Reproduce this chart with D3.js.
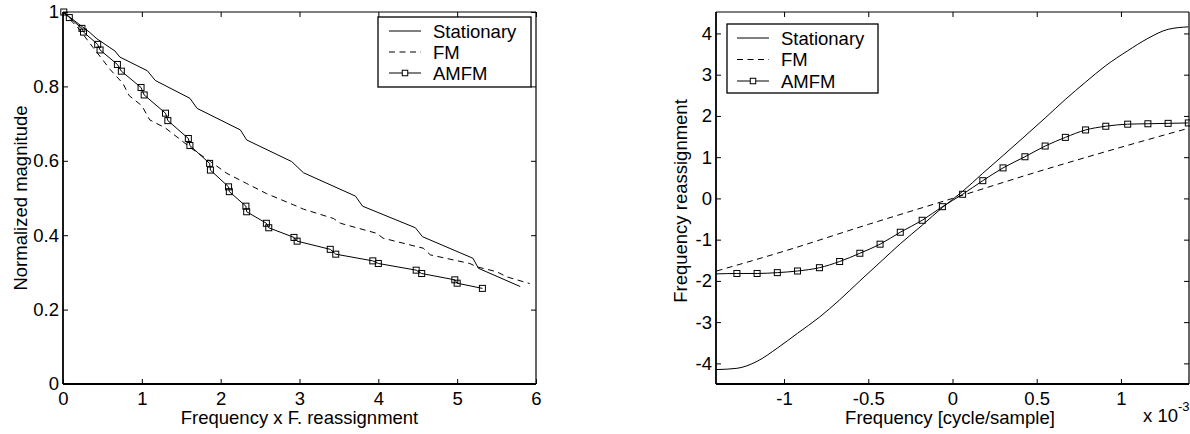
<!DOCTYPE html>
<html>
<head>
<meta charset="utf-8">
<script src="https://cdn.jsdelivr.net/npm/d3@7"></script>
<style>
  body { margin: 0; background: #fff; }
  svg { display: block; font-family: "Liberation Sans", Arial, sans-serif; }
</style>
</head>
<body>
<div id="chart"></div>
<script>
const width = 1190;
const height = 434;
const fontSize = 18.5;

// Left panel: magnitude vs frequency x reassignment
const statFreq = [0, 0.34, 0.43, 0.66, 0.72, 1.07, 1.17, 1.61, 1.70, 2.25, 2.33, 2.90, 3.05, 3.71, 3.80, 4.47, 4.56, 5.20, 5.27, 5.80];
const statMag = [1, 0.945, 0.928, 0.895, 0.879, 0.842, 0.816, 0.768, 0.741, 0.683, 0.656, 0.598, 0.568, 0.505, 0.478, 0.42, 0.396, 0.338, 0.311, 0.262];
const fmFreq = [0, 0.2, 0.38, 0.6, 0.76, 0.84, 1.0, 1.1, 1.3, 1.5, 1.65, 1.87, 2.08, 2.33, 2.58, 2.92, 3.05, 3.43, 3.52, 3.98, 4.06, 4.57, 4.66, 5.16, 5.25, 5.50, 5.63, 5.92];
const fmMag = [1, 0.955, 0.905, 0.845, 0.808, 0.775, 0.748, 0.71, 0.688, 0.655, 0.63, 0.598, 0.566, 0.539, 0.512, 0.482, 0.47, 0.445, 0.432, 0.405, 0.392, 0.365, 0.347, 0.324, 0.315, 0.302, 0.288, 0.27];
const amfmFreq = [0.01, 0.08, 0.24, 0.26, 0.44, 0.47, 0.69, 0.74, 0.99, 1.03, 1.30, 1.33, 1.59, 1.61, 1.86, 1.87, 2.10, 2.11, 2.32, 2.33, 2.58, 2.61, 2.93, 2.97, 3.39, 3.46, 3.93, 4.00, 4.48, 4.55, 4.97, 5.00, 5.32];
const amfmMag = [1.0, 0.985, 0.956, 0.946, 0.913, 0.898, 0.859, 0.841, 0.797, 0.777, 0.728, 0.708, 0.66, 0.641, 0.593, 0.575, 0.53, 0.517, 0.478, 0.463, 0.432, 0.42, 0.394, 0.384, 0.362, 0.349, 0.331, 0.324, 0.306, 0.297, 0.28, 0.271, 0.257];
const leftXTicks = [0, 1, 2, 3, 4, 5, 6];
const leftYTicks = [0, 0.2, 0.4, 0.6, 0.8, 1];

// Right panel: reassignment vs frequency (x 10^-3)
const statGrid = [-1.40, -1.28, -1.16, -1.04, -0.92, -0.79, -0.67, -0.55, -0.43, -0.31, -0.18, -0.06, 0.06, 0.18, 0.30, 0.43, 0.55, 0.67, 0.79, 0.91, 1.04, 1.16, 1.28, 1.40];
const statReassign = [-4.15, -4.12, -3.95, -3.63, -3.27, -2.88, -2.46, -2.00, -1.55, -1.10, -0.65, -0.22, 0.17, 0.61, 1.04, 1.51, 1.95, 2.40, 2.82, 3.22, 3.58, 3.88, 4.10, 4.16];
const fmGrid = [-1.40, -1.0, -0.5, 0, 0.5, 1.0, 1.40];
const fmReassign = [-1.76, -1.28, -0.63, 0.0, 0.64, 1.24, 1.70];
const amfmGrid = [-1.40, -1.28, -1.16, -1.04, -0.92, -0.79, -0.67, -0.55, -0.43, -0.31, -0.18, -0.06, 0.06, 0.18, 0.30, 0.43, 0.55, 0.67, 0.79, 0.91, 1.04, 1.16, 1.28, 1.40];
const amfmReassign = [-1.83, -1.82, -1.82, -1.80, -1.76, -1.68, -1.53, -1.33, -1.11, -0.82, -0.53, -0.20, 0.10, 0.43, 0.74, 1.01, 1.27, 1.48, 1.66, 1.75, 1.80, 1.81, 1.82, 1.83];
const amfmMarked = [false].concat(d3.range(23).map(() => true)); // first point is the clipped edge
const rightXTicks = [-1, -0.5, 0, 0.5, 1];
const rightYTicks = [-4, -3, -2, -1, 0, 1, 2, 3, 4];

const seriesNames = ["Stationary", "FM", "AMFM"];

const svg = d3.select("#chart").append("svg")
  .attr("width", width)
  .attr("height", height);

function zip(xs, ys) {
  return xs.map((x, i) => [x, ys[i]]);
}

function drawFrame(g, x, y, xTicks, yTicks) {
  let [x0, x1] = x.range();
  let [y0, y1] = y.range();
  let tick = 5;

  g.append("rect")
    .attr("x", x0).attr("y", y1)
    .attr("width", x1 - x0).attr("height", y0 - y1)
    .attr("fill", "white");

  // ticks point inward on all four sides
  let bottom = d3.axisBottom(x).tickValues(xTicks).tickSize(-tick).tickSizeOuter(0)
    .tickPadding(8).tickFormat(d => String(d));
  let top = d3.axisTop(x).tickValues(xTicks).tickSize(-tick).tickSizeOuter(0).tickFormat("");
  let left = d3.axisLeft(y).tickValues(yTicks).tickSize(-tick).tickSizeOuter(0)
    .tickPadding(4).tickFormat(d => String(d));
  let right = d3.axisRight(y).tickValues(yTicks).tickSize(-tick).tickSizeOuter(0).tickFormat("");

  let axes = [
    g.append("g").attr("transform", `translate(0,${y0})`).call(bottom),
    g.append("g").attr("transform", `translate(0,${y1})`).call(top),
    g.append("g").attr("transform", `translate(${x0},0)`).call(left),
    g.append("g").attr("transform", `translate(${x1},0)`).call(right)
  ];
  axes.forEach(a => {
    a.attr("font-size", fontSize).attr("font-family", null);
    a.select(".domain").remove();
    a.selectAll("line").attr("stroke", "black").attr("stroke-width", 1);
    a.selectAll("text").attr("fill", "black");
  });

  // box
  g.append("line").attr("x1", x0).attr("x2", x1).attr("y1", y1).attr("y2", y1)
    .attr("stroke", "black").attr("stroke-width", 1);
  g.append("line").attr("x1", x1).attr("x2", x1).attr("y1", y1).attr("y2", y0)
    .attr("stroke", "black").attr("stroke-width", 1.2);
  g.append("line").attr("x1", x0).attr("x2", x1).attr("y1", y0).attr("y2", y0)
    .attr("stroke", "black").attr("stroke-width", 1.8);
  g.append("line").attr("x1", x0).attr("x2", x0).attr("y1", y1).attr("y2", y0)
    .attr("stroke", "black").attr("stroke-width", 1.8);
}

function drawLine(g, pts, x, y, dashed, smooth = false) {
  let line = d3.line().x(d => x(d[0])).y(d => y(d[1]));
  if (smooth) line.curve(d3.curveMonotoneX);
  g.append("path")
    .datum(pts)
    .attr("d", line)
    .attr("fill", "none")
    .attr("stroke", "black")
    .attr("stroke-width", 1)
    .attr("stroke-dasharray", dashed ? "6,4.5" : null);
}

function drawMarkers(g, pts, x, y, size = 6) {
  g.selectAll(null)
    .data(pts)
    .enter()
    .append("rect")
    .attr("x", d => x(d[0]) - size / 2)
    .attr("y", d => y(d[1]) - size / 2)
    .attr("width", size)
    .attr("height", size)
    .attr("fill", "none")
    .attr("stroke", "black")
    .attr("stroke-width", 1);
}

function drawLegend(g, bx, by, bw, bh, rowY, lineX0, lineX1, textX) {
  g.append("rect")
    .attr("x", bx).attr("y", by)
    .attr("width", bw).attr("height", bh)
    .attr("fill", "white")
    .attr("stroke", "black")
    .attr("stroke-width", 1.3);
  seriesNames.forEach((name, i) => {
    let cy = rowY[i];
    g.append("line")
      .attr("x1", lineX0).attr("x2", lineX1)
      .attr("y1", cy).attr("y2", cy)
      .attr("stroke", "black")
      .attr("stroke-width", 1)
      .attr("stroke-dasharray", name === "FM" ? "6,4.5" : null);
    if (name === "AMFM") {
      let mid = (lineX0 + lineX1) / 2;
      g.append("rect")
        .attr("x", mid - 2.75).attr("y", cy - 2.75)
        .attr("width", 5.5).attr("height", 5.5)
        .attr("fill", "white").attr("stroke", "black");
    }
    g.append("text")
      .attr("x", textX)
      .attr("y", cy + 6.7)
      .attr("font-size", fontSize)
      .text(name);
  });
}

// ---------- Left panel ----------
let xL = d3.scaleLinear().domain([0, 6]).range([63, 536]);
let yL = d3.scaleLinear().domain([0, 1]).range([384, 12]);
let gL = svg.append("g");
drawFrame(gL, xL, yL, leftXTicks, leftYTicks);
drawLine(gL, zip(statFreq, statMag), xL, yL, false);
drawLine(gL, zip(fmFreq, fmMag), xL, yL, true);
drawLine(gL, zip(amfmFreq, amfmMag), xL, yL, false);
drawMarkers(gL, zip(amfmFreq, amfmMag), xL, yL);
drawLegend(gL, 378, 17, 153, 70, [31, 52, 73], 389, 421, 433);

gL.append("text")
  .attr("x", (xL.range()[0] + xL.range()[1]) / 2)
  .attr("y", 424)
  .attr("text-anchor", "middle")
  .attr("font-size", fontSize)
  .text("Frequency x F. reassignment");
gL.append("text")
  .attr("transform", `translate(26.5,198) rotate(-90)`)
  .attr("text-anchor", "middle")
  .attr("font-size", fontSize)
  .text("Normalized magnitude");

// ---------- Right panel ----------
let xR = d3.scaleLinear().domain([-1.404, 1.404]).range([716, 1189]);
let yR = d3.scaleLinear().domain([-4.5, 4.52]).range([384, 12]);
let gR = svg.append("g");
drawFrame(gR, xR, yR, rightXTicks, rightYTicks);
svg.append("clipPath").attr("id", "clipR").append("rect")
  .attr("x", 716).attr("y", 12).attr("width", 473).attr("height", 372);
let plotR = gR.append("g").attr("clip-path", "url(#clipR)");
drawLine(plotR, zip(statGrid, statReassign), xR, yR, false, true);
drawLine(plotR, zip(fmGrid, fmReassign), xR, yR, true, true);
drawLine(plotR, zip(amfmGrid, amfmReassign), xR, yR, false, true);
drawMarkers(gR, zip(amfmGrid, amfmReassign).filter((d, i) => amfmMarked[i]), xR, yR);
drawLegend(gR, 727, 24, 151, 69, [38, 59.5, 81], 737, 769, 781);

gR.append("text")
  .attr("x", 950)
  .attr("y", 424)
  .attr("text-anchor", "middle")
  .attr("font-size", fontSize)
  .text("Frequency [cycle/sample]");
gR.append("text")
  .attr("transform", `translate(686.5,201) rotate(-90)`)
  .attr("text-anchor", "middle")
  .attr("font-size", fontSize)
  .text("Frequency reassignment");

let expo = gR.append("text")
  .attr("x", 1143)
  .attr("y", 422)
  .attr("font-size", fontSize)
  .text("x 10");
expo.append("tspan")
  .attr("dy", -11)
  .attr("font-size", 13)
  .text("-3");
</script>
</body>
</html>
